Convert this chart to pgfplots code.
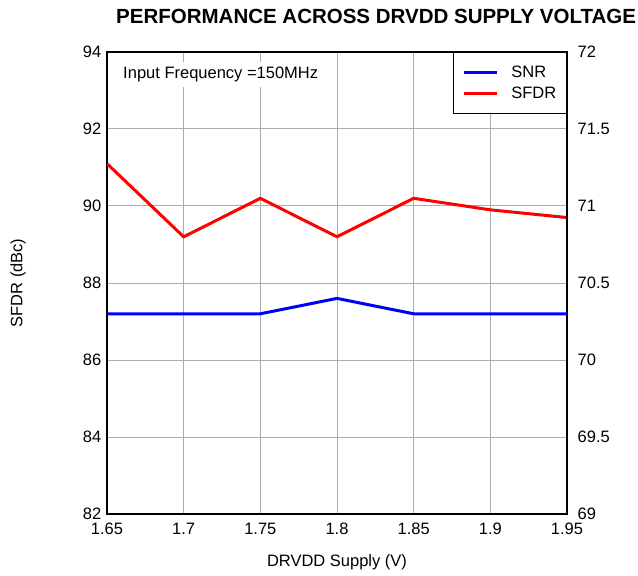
\documentclass[border=0pt]{standalone}
\usepackage{fontspec}
\setmainfont{Liberation Sans}
\usepackage{pgfplots}
\pgfplotsset{compat=1.18}
\begin{document}
\fontsize{16.5pt}{19pt}\selectfont
\begin{tikzpicture}
\pgfplotsset{
  common/.style={
    scale only axis, width=460pt, height=462pt,
    xmin=1.65, xmax=1.95,
    xtick={1.65,1.7,...,1.95},
    tick style={draw=none},
    /pgf/number format/assume math mode=true,
    ticklabel style={font=\fontsize{16.5pt}{19pt}\selectfont},
    axis line style={line width=2.5pt},
  }
}
\begin{axis}[common, name=main,
  ymin=82, ymax=94, ytick={82,84,...,94},
  xticklabels={1.65,1.7,1.75,1.8,1.85,1.9,1.95},
  xticklabel style={yshift=-3pt},
  grid=major, grid style={draw=black!32, line width=1pt},
  xlabel={DRVDD Supply (V)}, ylabel={SFDR (dBc)},
  xlabel style={at={(axis description cs:0.5,-0.104)}, anchor=center},
  ylabel style={at={(axis description cs:-0.193,0.5)}, anchor=center, inner sep=0pt},
  title={\bfseries\fontsize{20.5pt}{23pt}\selectfont PERFORMANCE ACROSS DRVDD SUPPLY VOLTAGE},
  title style={at={(axis description cs:0.585,1.063)}, anchor=center, inner sep=1pt},
  legend style={at={(1,1)}, anchor=north east, draw=black, line width=1.5pt,
    font=\fontsize{16.5pt}{19pt}\selectfont, row sep=5pt,
    inner xsep=9pt, inner ysep=12pt,
    nodes={inner sep=1pt},
    /tikz/every odd column/.style={column sep=12pt}},
  legend image code/.code={\draw[#1] (0pt,0pt) -- (33pt,0pt);},
  legend cell align=left,
]
\addlegendimage{blue, line width=3pt}
\addlegendentry{SNR}
\addplot[red, line width=3pt] coordinates {
  (1.65,91.1) (1.7,89.2) (1.75,90.2) (1.8,89.2) (1.85,90.2) (1.9,89.9) (1.95,89.7)
};
\addlegendentry{SFDR}
\node[anchor=west, fill=white, inner sep=5pt] at (rel axis cs:0.024,0.952) {Input Frequency =150MHz};
\end{axis}
\begin{axis}[common,
  ymin=69, ymax=72, ytick={69,69.5,...,72},
  axis y line*=right, axis x line=none,
  yticklabels={69,69.5,70,70.5,71,71.5,72},
  yticklabel style={xshift=5pt},
]
\addplot[blue, line width=3pt] coordinates {
  (1.65,70.3) (1.7,70.3) (1.75,70.3) (1.8,70.4) (1.85,70.3) (1.9,70.3) (1.95,70.3)
};
\end{axis}
% page margins as in the reference
\path ([xshift=-107pt,yshift=-59pt]main.south west) ([xshift=71pt,yshift=52pt]main.north east);
\end{tikzpicture}
\end{document}
